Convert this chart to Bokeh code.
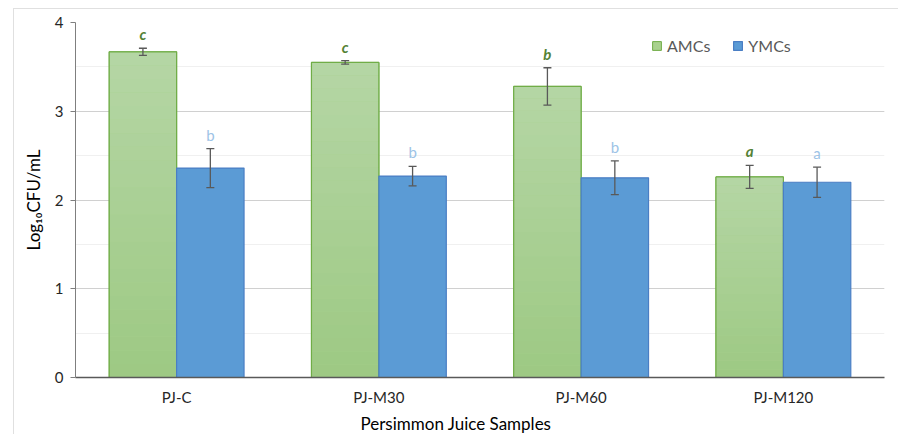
from bokeh.plotting import figure
from bokeh.models import (ColumnDataSource, Whisker, Legend, LegendItem, SingleIntervalTicker,
                          Title, FactorRange)
from bokeh.transform import dodge
from bokeh.core.properties import value
from bokeh.embed import file_html
from bokeh.resources import INLINE

categories = ["PJ-C", "PJ-M30", "PJ-M60", "PJ-M120"]
amc = [3.67, 3.55, 3.28, 2.26]
amc_err = [0.04, 0.02, 0.21, 0.13]
ymc = [2.36, 2.27, 2.25, 2.20]
ymc_err = [0.22, 0.11, 0.19, 0.17]
amc_letters = ["c", "c", "b", "a"]
ymc_letters = ["b", "b", "b", "a"]
series_names = ["AMCs", "YMCs"]

FONT = "Lato"
GREEN_TOP = (181, 214, 165)
GREEN_BOT = (157, 201, 131)

src = ColumnDataSource(dict(
    cat=categories, amc=amc, ymc=ymc,
    amc_lo=[v - e for v, e in zip(amc, amc_err)], amc_hi=[v + e for v, e in zip(amc, amc_err)],
    ymc_lo=[v - e for v, e in zip(ymc, ymc_err)], ymc_hi=[v + e for v, e in zip(ymc, ymc_err)],
    amc_lab=amc_letters, ymc_lab=ymc_letters,
))

p = figure(x_range=FactorRange(*categories), y_range=(0, 4), width=885, height=426,
           output_backend="svg", toolbar_location=None,
           min_border_left=61, min_border_right=15, min_border_top=13, min_border_bottom=57)
p.margin = (8, 0, 0, 13)
p.styles = {"border-top": "1px solid #E0E0E0", "border-left": "1px solid #E0E0E0"}
p.outline_line_color = None
p.background_fill_color = "white"
p.border_fill_color = "white"

W = 1 / 3
xa = dodge("cat", -1 / 6, range=p.x_range)
xy = dodge("cat", 1 / 6, range=p.x_range)

# base bars (used for legend)
r_amc = p.vbar(x=xa, top="amc", width=W, source=src, fill_color="#A9D18E", line_color="#70AD47", line_width=1)
# gradient slices derived from each bar's own value
N = 24
for k in range(N):
    t = (k + 0.5) / N
    col = "#%02x%02x%02x" % tuple(int(round(b + (a - b) * t)) for a, b in zip(GREEN_TOP, GREEN_BOT))
    p.vbar(x=dodge("x", -1 / 6, range=p.x_range), width=W,
           source=ColumnDataSource(dict(x=categories, b=[v * k / N for v in amc], t=[v * (k + 1) / N for v in amc])),
           bottom="b", top="t", fill_color=col, line_color=None)
p.vbar(x=xa, top="amc", width=W, source=src, fill_color=None, line_color="#70AD47", line_width=1.2)

r_ymc = p.vbar(x=xy, top="ymc", width=W, source=src, fill_color="#5B9BD5", line_color="#4A7EC4", line_width=1.2)

for base, lo, hi in ((xa, "amc_lo", "amc_hi"), (xy, "ymc_lo", "ymc_hi")):
    w = Whisker(base=base, lower=lo, upper=hi, source=src, dimension="height",
                line_color="#595959", line_width=1.3, level="overlay")
    for h in (w.upper_head, w.lower_head):
        h.size = 8
        h.line_color = "#595959"
        h.line_width = 1.3
    p.add_layout(w)

p.text(x=xa, y="amc_hi", text="amc_lab", source=src, y_offset=-5, text_align="center",
       text_baseline="bottom", text_font=value(FONT), text_font_size="15px",
       text_font_style="bold italic", text_color="#548235")
p.text(x=xy, y="ymc_hi", text="ymc_lab", source=src, y_offset=-5, text_align="center",
       text_baseline="bottom", text_font=value(FONT), text_font_size="15px",
       text_color="#9DC3E6")

# axes
p.yaxis.ticker = SingleIntervalTicker(interval=1, num_minor_ticks=2)
p.yaxis.minor_tick_line_color = None
p.yaxis.major_tick_in = 0
p.yaxis.major_tick_out = 5
p.yaxis.major_label_standoff = 7
p.yaxis.axis_line_color = "#7F7F7F"
p.yaxis.major_tick_line_color = "#7F7F7F"
p.yaxis.axis_label = "Log\u2081\u2080CFU/mL"
p.yaxis.axis_label_text_font = FONT
p.yaxis.axis_label_text_font_size = "17px"
p.yaxis.axis_label_text_font_style = "normal"
p.yaxis.axis_label_text_color = "#000000"
p.yaxis.axis_label_standoff = 8

p.xaxis.major_tick_line_color = None
p.xaxis.minor_tick_line_color = None
p.xaxis.axis_line_color = "#595959"
p.xaxis.axis_line_width = 1.3
p.xaxis.major_label_standoff = 4

for ax in (p.xaxis, p.yaxis):
    ax.major_label_text_font = FONT
    ax.major_label_text_font_size = "15px"
    ax.major_label_text_color = "#262626"

p.xgrid.grid_line_color = None
p.ygrid.grid_line_color = "#D0D0D0"
p.ygrid.grid_line_width = 1.2
p.ygrid.minor_grid_line_color = "#F0F0F0"
p.ygrid.minor_grid_line_width = 1.2

p.add_layout(Title(text="Persimmon Juice Samples", align="left", offset=285, text_font=FONT,
                   text_font_size="17px", text_font_style="normal", text_color="#000000",
                   standoff=4), "below")

legend = Legend(items=[LegendItem(label=series_names[0], renderers=[r_amc]),
                       LegendItem(label=series_names[1], renderers=[r_ymc])],
                orientation="horizontal", location=(576, 322), border_line_color=None,
                background_fill_alpha=0, padding=0, margin=0, spacing=22, label_standoff=5,
                glyph_width=11, glyph_height=11, label_text_font=FONT,
                label_text_font_size="16px", label_text_color="#595959")
p.add_layout(legend)

open("out.html", "w").write(file_html(p, INLINE))
